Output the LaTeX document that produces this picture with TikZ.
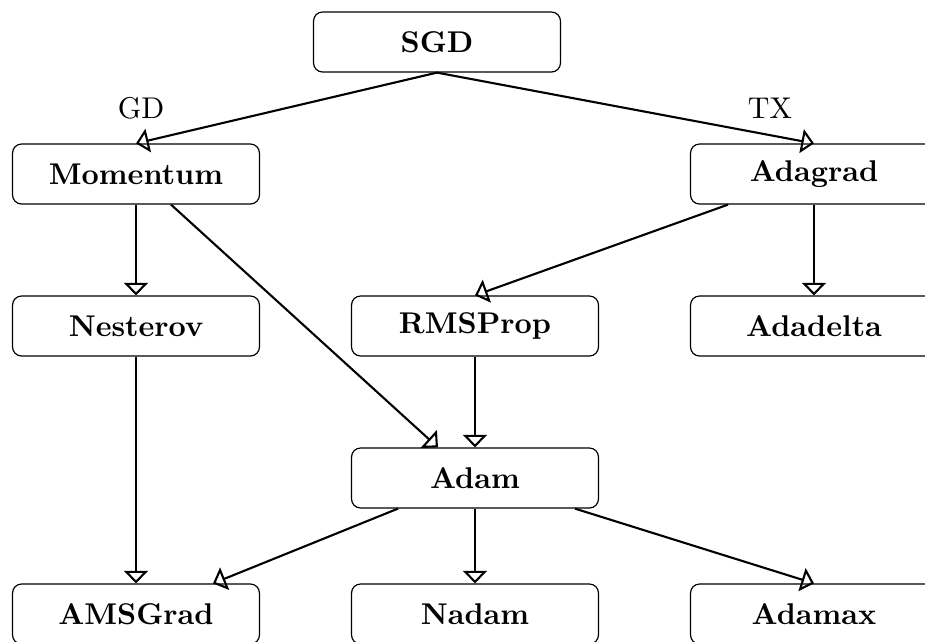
\documentclass[tikz,border=0pt]{standalone}
\usetikzlibrary{arrows.meta,calc}
\tikzset{
  algbox/.style={draw, line width=0.4pt, rounded corners=3pt, minimum width=82.3pt, minimum height=20pt, inner sep=0pt, font=\bfseries},
  flow/.style={line width=0.7pt, -{Triangle[open,length=4.2pt,width=8pt]}},
  lbl/.style={inner sep=0pt}
}
\begin{document}
\begin{tikzpicture}[x=0.3333pt, y=-0.3333pt]
\useasboundingbox (0,0) rectangle (925,641);
\clip (0,0) rectangle (925,641);
\node[algbox] (SGD) at (437,42) {SGD};
\node[algbox] (Momentum) at (136,174) {Momentum};
\node[algbox] (Adagrad) at (814,174) {Adagrad};
\node[algbox] (Nesterov) at (136,326) {Nesterov};
\node[algbox] (RMSProp) at (475,326) {RMSProp};
\node[algbox] (Adadelta) at (814,326) {Adadelta};
\node[algbox] (Adam) at (475,478) {Adam};
\node[algbox] (AMSGrad) at (136,614) {AMSGrad};
\node[algbox] (Nadam) at (475,614) {Nadam};
\node[algbox] (Adamax) at (814,614) {Adamax};
\node[lbl] (GD) at (141,108) {GD};
\node[lbl] (TX) at (770,108) {TX};
\draw[flow] (SGD.south) -- (Momentum.north);
\draw[flow] (SGD.south) -- (Adagrad.north);
\draw[flow] (Momentum.south) -- (Nesterov.north);
\draw[flow] ($(Momentum.south)+(35,0)$) -- ($(Adam.north)+(-37,0)$);
\draw[flow] ($(Adagrad.south)+(-86,0)$) -- (RMSProp.north);
\draw[flow] (Adagrad.south) -- (Adadelta.north);
\draw[flow] (RMSProp.south) -- (Adam.north);
\draw[flow] (Nesterov.south) -- (AMSGrad.north);
\draw[flow] ($(Adam.south)+(-77,0)$) -- ($(AMSGrad.north)+(77,0)$);
\draw[flow] (Adam.south) -- (Nadam.north);
\draw[flow] ($(Adam.south)+(100,0)$) -- (Adamax.north);
\end{tikzpicture}
\end{document}
